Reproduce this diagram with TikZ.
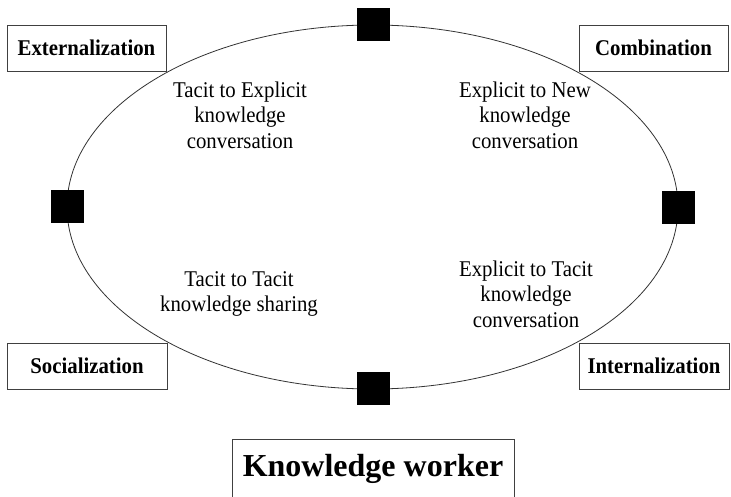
\documentclass[tikz,border=0pt]{standalone}
\usepackage{fontspec}
\setmainfont{Liberation Serif}
\newfontfamily\tallserif[FakeStretch=0.925]{Liberation Serif}
\begin{document}
\begin{tikzpicture}[x=1pt,y=-1pt,
  lbl/.style={draw=black!75, fill=white, line width=0.8pt, minimum height=46pt, inner sep=0pt,
              font=\tallserif\fontsize{22.5}{24}\selectfont\bfseries},
  sq/.style={fill=black, minimum size=33pt, inner sep=0pt},
  txt/.style={align=center, inner sep=0pt, font=\tallserif\fontsize{22.5}{25.5}\selectfont}]
\useasboundingbox (0,0) rectangle (731,497);
\clip (0,0) rectangle (731,497);
\fill[white] (0,0) rectangle (731,497);
% ellipse
\draw[line width=0.8pt, black!80] (372.5,207) ellipse [x radius=305.5, y radius=182];
% squares on the ellipse
\node[sq] (top) at (373,25) {};
\node[sq] (left) at (67,207) {};
\node[sq] (right) at (678,208) {};
\node[sq] (bot) at (373,388) {};
% mode boxes
\node[lbl, minimum width=159pt] (ext) at (86.5,48) {Externalization};
\node[lbl, minimum width=149pt] (com) at (653.5,48) {Combination};
\node[lbl, minimum width=160pt] (soc) at (87,366) {Socialization};
\node[lbl, minimum width=150pt] (int) at (654,366) {Internalization};
\node[lbl, minimum width=282pt, minimum height=60pt, font=\fontsize{32}{36}\selectfont\bfseries] (kw) at (373,469) {Knowledge worker};
% inner texts
\node[txt] (t1) at (240,115) {Tacit to Explicit\\knowledge\\conversation};
\node[txt] (t2) at (525,115) {Explicit to New\\knowledge\\conversation};
\node[txt] (t3) at (239,294) {Tacit to Tacit\\knowledge sharing};
\node[txt] (t4) at (526,294) {Explicit to Tacit\\knowledge\\conversation};
\end{tikzpicture}
\end{document}
